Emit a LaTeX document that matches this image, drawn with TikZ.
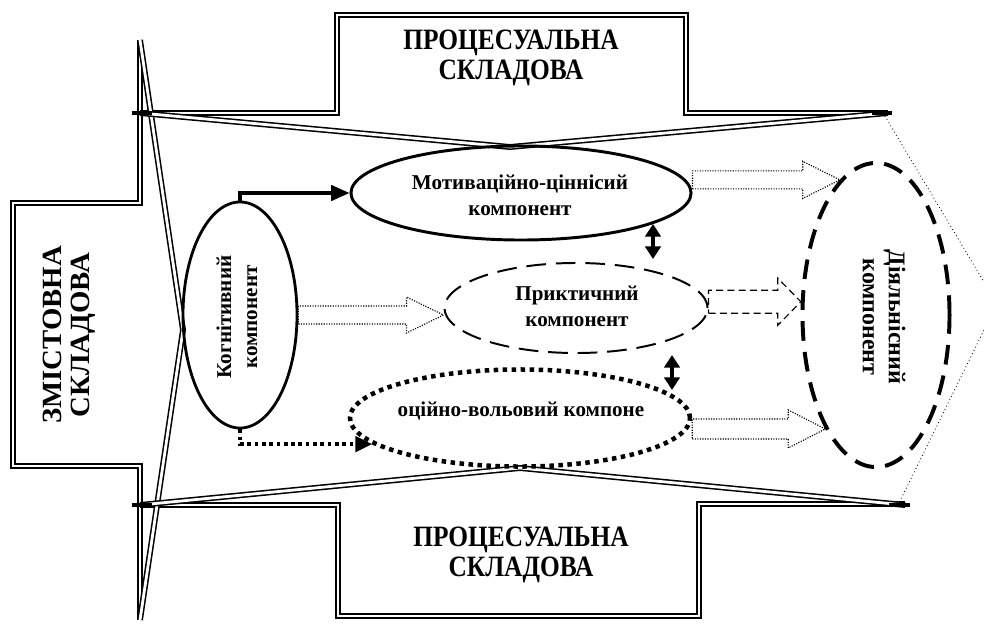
\documentclass[tikz,border=0pt]{standalone}
\usepackage{fontspec}
\setmainfont{Liberation Serif}
\usetikzlibrary{arrows.meta,shapes.geometric,calc}

\tikzset{
  dbl/.style={draw,line width=1.1pt,double distance=2pt},
  tick/.style={line width=3.5pt},
  comp/.style={draw,ellipse,inner sep=0pt},
  lbl/.style={font=\bfseries\fontsize{15}{18.5}\selectfont,align=center},
  biglbl/.style={font=\bfseries\fontsize{21}{21}\selectfont,align=center,xscale=0.86},
  hollow/.style={line width=0.8pt,densely dotted},
  hollowdash/.style={line width=0.8pt,dash pattern=on 5pt off 3pt},
  twoway/.style={line width=2.2pt,{Triangle[length=9pt,width=11pt]}-{Triangle[length=9pt,width=11pt]}}
}
% hollow block arrow: [style]{from}{tip}{head length}{shaft half}{head half}
\newcommand{\blockarrow}[6][]{\draw[#1] ($(#2)+(0,#5)$) -- ($(#3)+(-#4,#5)$) -- ($(#3)+(-#4,#6)$) -- (#3) -- ($(#3)+(-#4,-#6)$) -- ($(#3)+(-#4,-#5)$) -- ($(#2)+(0,-#5)$) -- cycle;}

\begin{document}
\begin{tikzpicture}[x=0.025cm,y=-0.025cm,line cap=butt]
\useasboundingbox (0,0) rectangle (984,624);
% cross outline
\draw[dbl] (888,113) -- (686,113) -- (686,15) -- (337,15) -- (337,113) -- (140,113);
\draw[dbl] (140,40) -- (140,203) -- (13,203) -- (13,466) -- (140,466) -- (140,620);
\draw[dbl] (140,505) -- (338,505) -- (338,616) -- (699,616) -- (699,504) -- (905,504);
% wedges
\draw[dbl,line join=round] (140,40) -- (183,330) -- (140,620);
\draw[dbl,line join=round] (140,113) -- (510,147) -- (888,113);
\draw[dbl,line join=round] (140,505) -- (520,468) -- (905,505);
\draw[tick] (132,113) -- (152,113);
\draw[tick] (872,113) -- (892,113);
\draw[tick] (132,505) -- (152,505);
\draw[tick] (889,505) -- (910,505);
\draw[dotted,line width=0.6pt] (883,113) -- (984,282);
\draw[dotted,line width=0.6pt] (898,505) -- (984,330);

\node[biglbl] (procTop) at (511,58) {ПРОЦЕСУАЛЬНА\\СКЛАДОВА};
\node[biglbl] (procBot) at (521,555) {ПРОЦЕСУАЛЬНА\\СКЛАДОВА};
\node[biglbl,font=\bfseries\fontsize{23}{23.5}\selectfont,rotate=90,xscale=0.89] (zmist) at (69,335) {ЗМІСТОВНА\\СКЛАДОВА};

% components
\node[comp,line width=2pt,minimum width=2.85cm,minimum height=5.65cm] (kog) at (240,315) {};
\node[comp,line width=2.1pt,minimum width=8.5cm,minimum height=2.35cm] (mot) at (521,193) {};
\node[comp,line width=1.4pt,dash pattern=on 14pt off 7pt,minimum width=6.575cm,minimum height=2.25cm] (prak) at (576,308) {};
\node[comp,line width=3.2pt,dash pattern=on 3.2pt off 3.2pt,minimum width=8.5cm,minimum height=2.425cm] (ocin) at (520,418) {};
\node[comp,line width=2.8pt,dash pattern=on 14pt off 8pt,minimum width=3.675cm,minimum height=7.6cm] (dial) at (876,315) {};

\node[lbl,rotate=90] (kogT) at (237,317) {Когнітивний\\компонент};
\node[lbl] (motT) at (520,195) {Мотиваційно-ціннісий\\компонент};
\node[lbl] (prakT) at (577,306) {Приктичний\\компонент};
\node[lbl] (ocinT) at (521,411) {оційно-вольовий компоне};
\node[lbl,font=\bfseries\fontsize{17}{18.5}\selectfont,rotate=-90] (dialT) at (884,317) {Діяльнісний\\компонент};

% connectors
\draw[line width=2.2pt,-{Triangle[length=13pt,width=11pt]}] (kog.north) |- (mot.west);
\draw[line width=2.6pt,dash pattern=on 2.6pt off 2.6pt,-{Triangle[length=12pt,width=11pt]}] (kog.south) |- (ocin.190);

\coordinate (s1) at (kog.east -| prak.west);
\coordinate (s2) at (dial.105 -| mot.east);
\coordinate (s3) at (dial.170 -| prak.east);
\coordinate (s4) at (dial.246 -| ocin.east);
\blockarrow[hollow]{kog.east}{s1}{37}{9}{18}
\blockarrow[hollow]{s2}{dial.105}{37}{9}{18.5}
\blockarrow[hollowdash]{s3}{dial.170}{23}{11.5}{23.5}
\blockarrow[hollow]{s4}{dial.246}{37}{10}{19}

\coordinate (d1a) at (653,224);
\coordinate (d1b) at (653,259);
\coordinate (d2a) at (672,355);
\coordinate (d2b) at (672,390);
\draw[twoway] (d1a) -- (d1b);
\draw[twoway] (d2a) -- (d2b);
\end{tikzpicture}
\end{document}
